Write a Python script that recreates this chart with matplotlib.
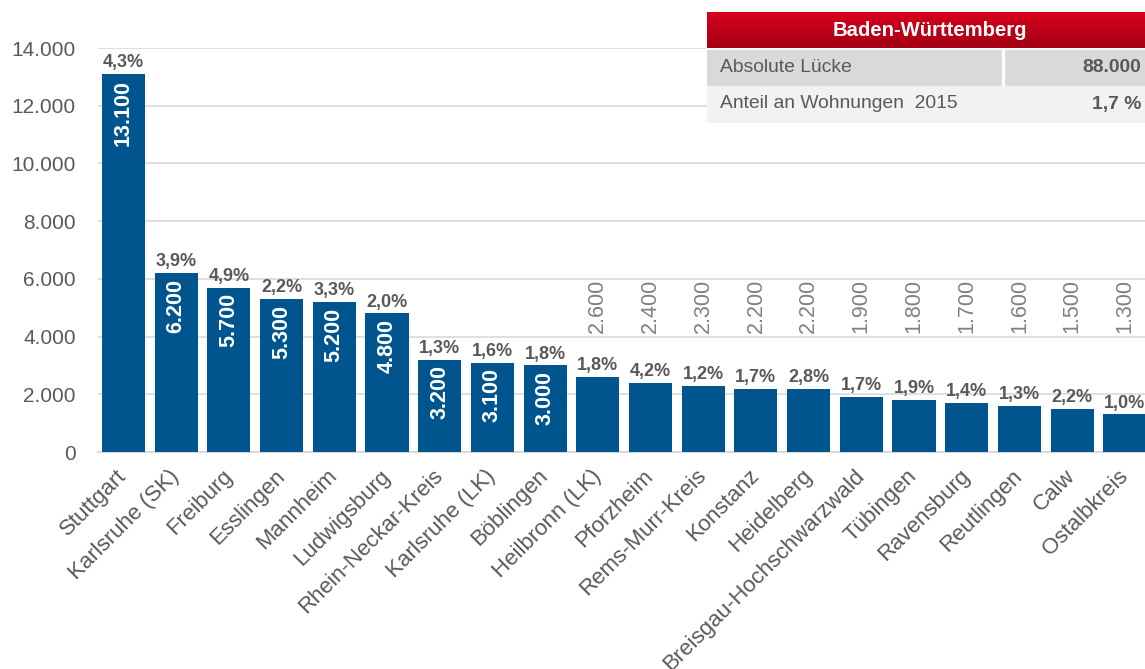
import matplotlib
matplotlib.use("Agg")
import matplotlib.pyplot as plt
import matplotlib.transforms as mtransforms
import numpy as np
from matplotlib.patches import Rectangle
from matplotlib.colors import LinearSegmentedColormap

plt.rcParams['font.family'] = ['Liberation Sans', 'DejaVu Sans']

regions = ["Stuttgart", "Karlsruhe (SK)", "Freiburg", "Esslingen", "Mannheim",
           "Ludwigsburg", "Rhein-Neckar-Kreis", "Karlsruhe (LK)", "Böblingen",
           "Heilbronn (LK)", "Pforzheim", "Rems-Murr-Kreis", "Konstanz",
           "Heidelberg", "Breisgau-Hochschwarzwald", "Tübingen", "Ravensburg",
           "Reutlingen", "Calw", "Ostalbkreis"]
gap = [13100, 6200, 5700, 5300, 5200, 4800, 3200, 3100, 3000, 2600, 2400,
       2300, 2200, 2200, 1900, 1800, 1700, 1600, 1500, 1300]
share = ["4,3%", "3,9%", "4,9%", "2,2%", "3,3%", "2,0%", "1,3%", "1,6%", "1,8%",
         "1,8%", "4,2%", "1,2%", "1,7%", "2,8%", "1,7%", "1,9%", "1,4%", "1,3%",
         "2,2%", "1,0%"]
yticks = [0, 2000, 4000, 6000, 8000, 10000, 12000, 14000]
table_title = "Baden-Württemberg"
table_rows = [("Absolute Lücke", "88.000"), ("Anteil an Wohnungen  2015", "1,7 %")]

BLUE = "#00558f"
GRAY_TXT = "#595959"
GRAY_LBL = "#808080"
GRID = "#d9d9d9"

W, H = 1145, 669
fig = plt.figure(figsize=(W / 100, H / 100), dpi=100)

ax_l, ax_r, ax_b, ax_t = 98, 1145, 452, 48
ax = fig.add_axes([ax_l / W, (H - ax_b) / H, (ax_r - ax_l) / W, (ax_b - ax_t) / H])
spacing = 52.7
x0 = -(123.5 - ax_l) / spacing
ax.set_xlim(x0, x0 + (ax_r - ax_l) / spacing)
ax.set_ylim(0, 14000)

x = np.arange(len(regions))
ax.bar(x, gap, width=0.816, color=BLUE, zorder=3)

def fmt(v):
    return f"{v:,.0f}".replace(",", ".")

for i, (v, s) in enumerate(zip(gap, share)):
    ax.annotate(s, (i, v), xytext=(0, 2), textcoords="offset points",
                ha="center", va="bottom", fontsize=13, fontweight="bold",
                color=GRAY_TXT, zorder=4)
    if v >= 3000:
        ax.annotate(fmt(v), (i, v), xytext=(0, -4), textcoords="offset points",
                    ha="center", va="top", rotation=90, fontsize=15.5,
                    fontweight="bold", color="white", zorder=4)
    else:
        ax.text(i, 5050, fmt(v), ha="center", va="center", rotation=90,
                fontsize=15.5, color=GRAY_LBL, zorder=4)

ax.set_yticks(yticks)
ax.set_yticklabels([fmt(t) for t in yticks], fontsize=15, color=GRAY_TXT)
ax.set_xticks(x)
ax.set_xticklabels(regions, rotation=45, ha="right", va="center",
                   rotation_mode="anchor", fontsize=16, color=GRAY_TXT)
shift = mtransforms.ScaledTranslation(4 / 100, -1 / 100, fig.dpi_scale_trans)
for lbl in ax.get_xticklabels():
    lbl.set_transform(lbl.get_transform() + shift)
ax.tick_params(axis="both", length=0)
ax.tick_params(axis="y", pad=16)
ax.tick_params(axis="x", pad=15)
ax.yaxis.grid(True, color=GRID, linewidth=1.2, zorder=0)
ax.set_axisbelow(True)
for sp in ["top", "right", "left"]:
    ax.spines[sp].set_visible(False)
ax.spines["bottom"].set_color(GRID)
ax.spines["bottom"].set_linewidth(1.5)

# table
tx0, tx1, ty0, ty1 = 707, 1145, 12, 123
tab = fig.add_axes([tx0 / W, (H - ty1) / H, (tx1 - tx0) / W, (ty1 - ty0) / H])
tab.axis("off")
tab.add_patch(Rectangle((tx0, ty0), tx1 - tx0, ty1 - ty0, color="white", zorder=0))
grad = np.linspace(0, 1, 50).reshape(-1, 1)
cmap = LinearSegmentedColormap.from_list("r", ["#d6001c", "#a50015"])
tab.imshow(grad, cmap=cmap, extent=(tx0, tx1, 48, ty0), aspect="auto", zorder=1)
tab.set_xlim(tx0, tx1)
tab.set_ylim(ty1, ty0)
tab.add_patch(Rectangle((tx0, 50), tx1 - tx0, 35, color="#d9d9d9", zorder=1))
tab.add_patch(Rectangle((1002, 50), 2, 35, color="white", zorder=2))
tab.add_patch(Rectangle((tx0, 86), tx1 - tx0, 37, color="#f2f2f2", zorder=1))
tab.text(930, 30, table_title, ha="center", va="center", color="white",
         fontsize=14.6, fontweight="bold", zorder=3)
for (lab, val), yc in zip(table_rows, [68, 104]):
    tab.text(720, yc, lab, ha="left", va="center", color=GRAY_TXT,
             fontsize=13.9, zorder=3)
    tab.text(1141, yc, val, ha="right", va="center", color=GRAY_TXT,
             fontsize=13.9, fontweight="bold", zorder=3)

fig.savefig("out.png", dpi=100)
